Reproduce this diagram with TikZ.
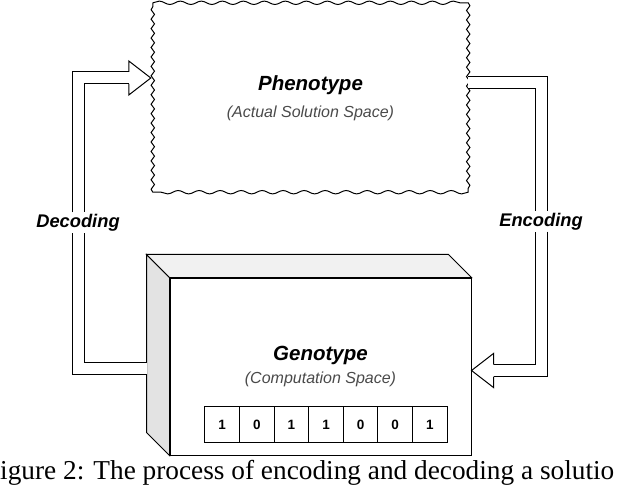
\documentclass[tikz,border=0pt]{standalone}
\usepackage{fontspec}
\setmainfont{Liberation Serif}
\newfontfamily\arialfont{Liberation Sans}
\usepackage{tikz}
\usetikzlibrary{
  positioning,
  calc,
  decorations.pathmorphing
}
\definecolor{sidegray}{HTML}{E3E3E3}
\definecolor{topgray}{HTML}{F1F1F1}
\definecolor{subgray}{HTML}{4A4A4A}

\begin{document}
\begin{tikzpicture}[
      x=1pt, y=-1pt,
      title/.style={font=\arialfont\bfseries\itshape\fontsize{20.5}{23}\selectfont, inner sep=0pt},
      subtitle/.style={font=\arialfont\itshape\fontsize{16}{19}\selectfont, text=subgray, inner sep=0pt},
      tag/.style={font=\arialfont\bfseries\itshape\fontsize{18.3}{21}\selectfont, fill=white, inner sep=1.5pt},
      bit/.style={draw, line width=0.9pt, minimum width=34.6pt, minimum height=36pt,
                  inner sep=0pt, outer sep=0pt, font=\arialfont\bfseries\fontsize{13.5}{15}\selectfont},
      hollow/.style={draw, line width=1pt, double, double distance=11pt},
      head/.style={line width=1pt},
      wave/.style={decoration={snake, segment length=#1, amplitude=1.7pt}}
  ]
      \useasboundingbox (0,0) rectangle (618,486);
      \clip (0,0) rectangle (618,486);

      % Phenotype (wavy box)
      \node[minimum width=315pt, minimum height=189pt, inner sep=0pt] (phen) at (310.5,97.5) {};
      \draw[line width=1pt] (phen.north west)
          decorate[wave=21pt] {-- (phen.north east)}
          decorate[wave=9.45pt] {-- (phen.south east)}
          decorate[wave=21pt] {-- (phen.south west)}
          decorate[wave=9.45pt] {-- (phen.north west)};
      \node[title] (phen-title) at ($(phen.center)+(0,-12.5)$) {Phenotype};
      \node[subtitle] (phen-sub) at ($(phen.center)+(0,15.5)$) {(Actual Solution Space)};

      % Genotype (3D box)
      \node[draw, fill=white, line width=1pt, minimum width=301pt, minimum height=177pt,
            inner sep=0pt] (geno) at (320.5,366.5) {};
      \filldraw[fill=sidegray, line width=1pt] (geno.north west) -- ++(-23,-23)
          -- ($(geno.south west)+(-23,-23)$) -- (geno.south west) -- cycle;
      \filldraw[fill=topgray, line width=1pt] (geno.north west) -- ++(-23,-23)
          -- ($(geno.north east)+(-23,-23)$) -- (geno.north east) -- cycle;
      \node[title] (geno-title) at ($(geno.center)+(0,-11.5)$) {Genotype};
      \node[subtitle] (geno-sub) at ($(geno.center)+(0,12.5)$) {(Computation Space)};

      % bit string
      \node[bit] (b1) at ($(geno.south)+(-98.3,-31)$) {1};
      \foreach \v [count=\i from 2] in {0,1,1,0,0,1} {
          \pgfmathtruncatemacro\j{\i-1}
          \node[bit, right=0pt of b\j] (b\i) {\v};
      }

      % Decoding
      \coordinate (dec-tip) at ($(phen.west)+(-2,-19.5)$);
      \coordinate (dec-base) at ($(dec-tip)+(-22,0)$);
      \coordinate (dec-end) at ($(geno.west)+(-23,2)$);
      \node[tag] (dec) at (78,222.5) {Decoding};
      \draw[hollow] (dec-end) -| (dec) |- (dec-base);
      \draw[head] ($(dec-base)+(0,-6)$) -- ++(0,-11) -- (dec-tip)
          -- ($(dec-base)+(0,17)$) -- ++(0,-11);

      % Encoding
      \coordinate (enc-start) at ($(phen.east)+(0,-15)$);
      \coordinate (enc-tip) at ($(geno.east)+(0,4)$);
      \coordinate (enc-base) at ($(enc-tip)+(22,0)$);
      \node[tag] (enc) at (541,221.5) {Encoding};
      \draw[hollow] (enc-start) -| (enc) |- (enc-base);
      \draw[head] ($(enc-base)+(0,-6)$) -- ++(0,-11) -- (enc-tip)
          -- ($(enc-base)+(0,17)$) -- ++(0,-11);

      % caption (as cropped in the figure)
      \node[anchor=base west, inner sep=0pt, font=\fontsize{27.3}{30}\selectfont] (caption)
          at (0,479) {igure 2: The process of encoding and decoding a solutio};
  \end{tikzpicture}
\end{document}
